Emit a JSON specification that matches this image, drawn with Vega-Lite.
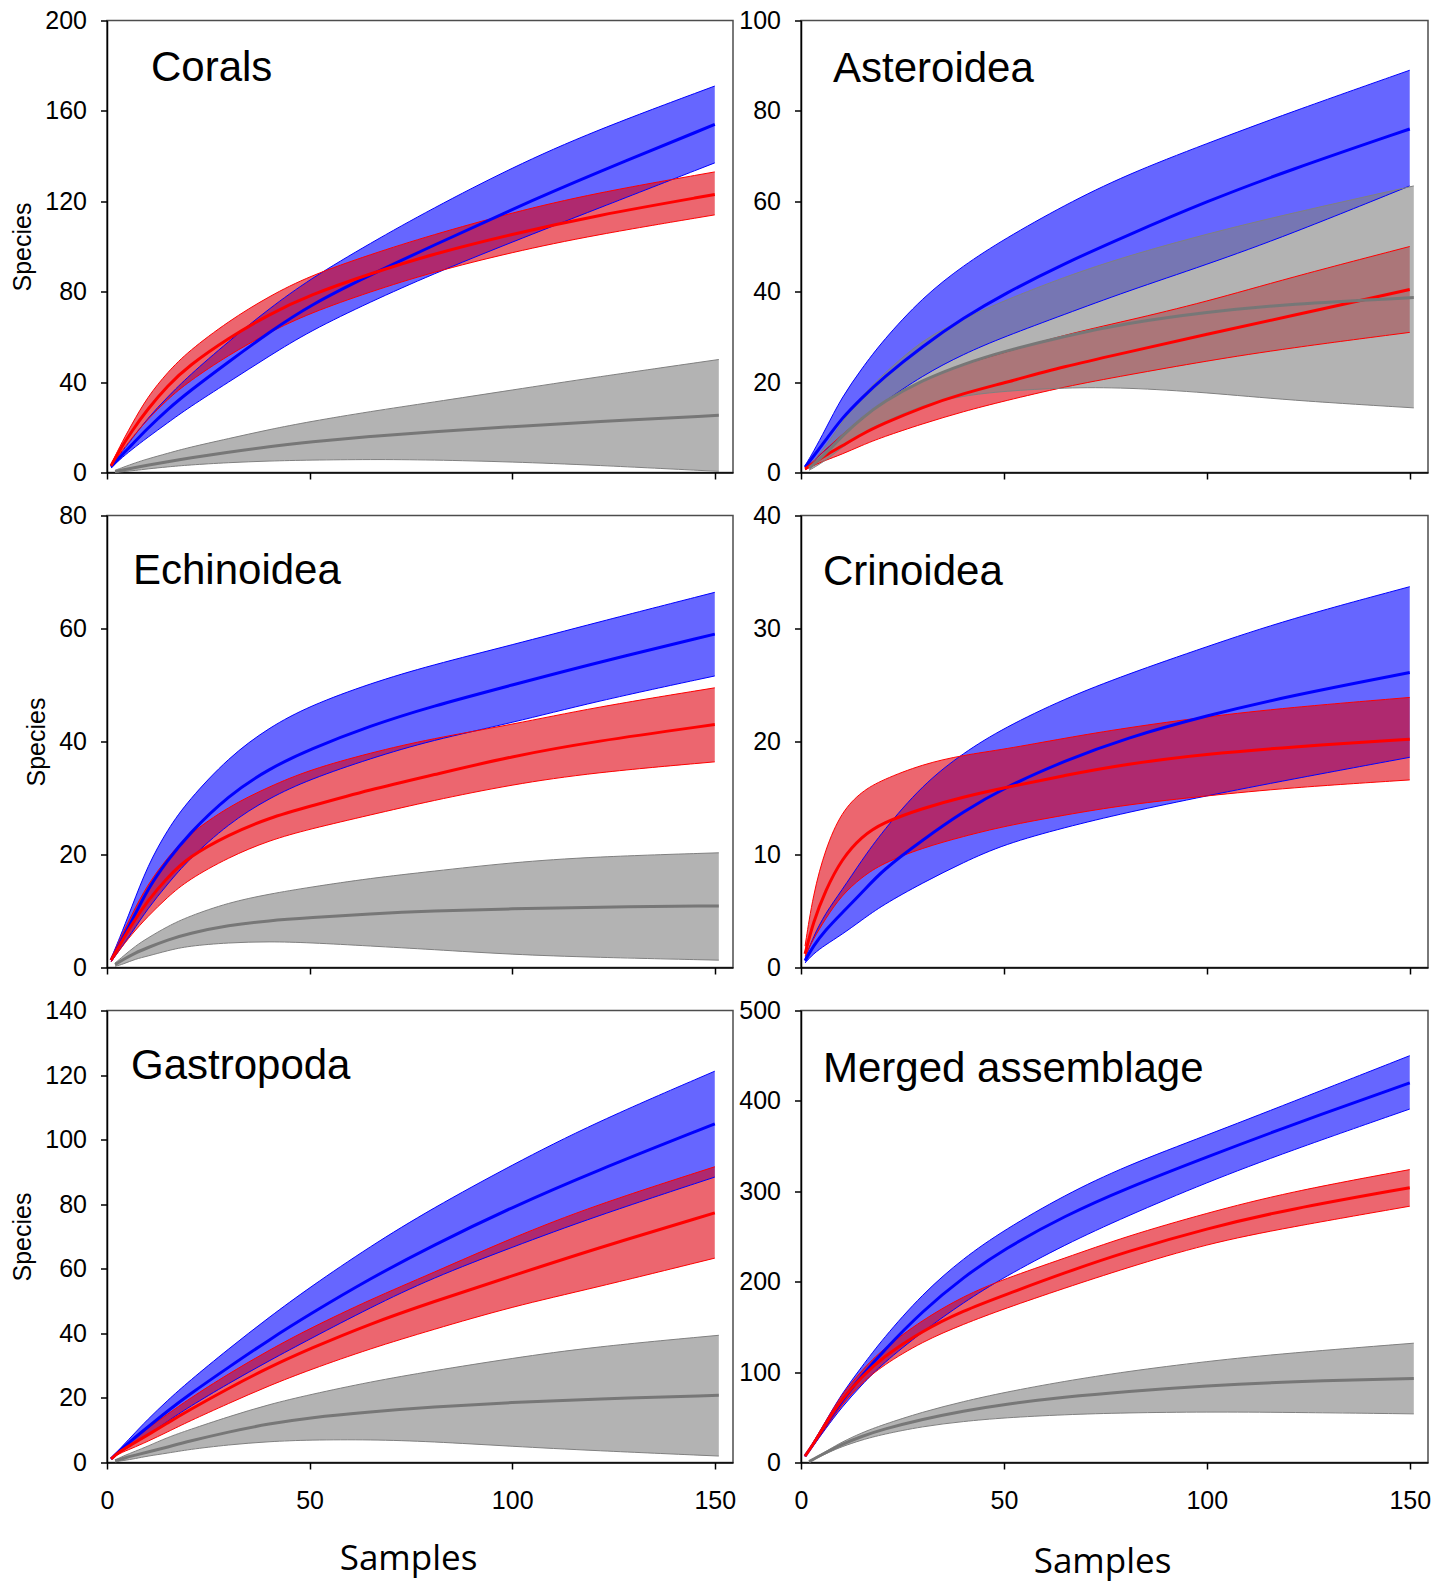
{
"$schema": "https://vega.github.io/schema/vega-lite/v6.json",
"background": "white",
"padding": {"left": 10, "top": 7.5, "right": 5, "bottom": 5},
"config": {
  "view": {"stroke": "#4d4d4d", "strokeWidth": 1.5},
  "axis": {"domainColor": "#000000", "domainWidth": 1.5, "tickColor": "#000000", "tickWidth": 1.5, "tickSize": 6.5, "labelFont": "Liberation Sans", "labelFontSize": 25, "labelColor": "#000000", "grid": false, "titleColor": "#000000", "titleFontWeight": "normal", "labelFlush": false, "labelOverlap": false},
  "axisX": {"labelPadding": 19, "titleFont": "Open Sans", "titleFontSize": 35},
  "axisY": {"labelPadding": 14, "titleFont": "Liberation Sans", "titleFontSize": 25, "titlePadding": 9},
  "title": {"font": "Liberation Sans", "fontSize": 42, "fontWeight": "normal", "anchor": "start", "frame": "group", "baseline": "alphabetic", "offset": 0, "color": "#000000"}
},
"datasets": {"d": [
{"p":"Corals","s":"blue","x":1,"m":2.5,"lo":2,"hi":3},{"p":"Corals","s":"blue","x":3,"m":6.5,"lo":5.5,"hi":7.5},{"p":"Corals","s":"blue","x":6,"m":12,"lo":10,"hi":14.5},{"p":"Corals","s":"blue","x":10,"m":19.5,"lo":15.5,"hi":24},{"p":"Corals","s":"blue","x":15,"m":28,"lo":22,"hi":33.5},{"p":"Corals","s":"blue","x":20,"m":35.5,"lo":28.5,"hi":42.5},{"p":"Corals","s":"blue","x":30,"m":49,"lo":40,"hi":58},{"p":"Corals","s":"blue","x":40,"m":62,"lo":51.5,"hi":72.5},{"p":"Corals","s":"blue","x":50,"m":74,"lo":62.5,"hi":85.5},{"p":"Corals","s":"blue","x":65,"m":87.5,"lo":75.5,"hi":101.5},{"p":"Corals","s":"blue","x":80,"m":100,"lo":87.5,"hi":116.5},{"p":"Corals","s":"blue","x":100,"m":116.5,"lo":102,"hi":135},{"p":"Corals","s":"blue","x":120,"m":132,"lo":116,"hi":151},{"p":"Corals","s":"blue","x":150,"m":154,"lo":137,"hi":171},
{"p":"Corals","s":"red","x":1,"m":3,"lo":2.5,"hi":3.5},{"p":"Corals","s":"red","x":3,"m":9.5,"lo":8,"hi":11},{"p":"Corals","s":"red","x":6,"m":18,"lo":15,"hi":21},{"p":"Corals","s":"red","x":10,"m":28,"lo":23.5,"hi":33.5},{"p":"Corals","s":"red","x":15,"m":38.5,"lo":32.5,"hi":44.5},{"p":"Corals","s":"red","x":20,"m":47,"lo":40,"hi":53.5},{"p":"Corals","s":"red","x":30,"m":59.5,"lo":52,"hi":67},{"p":"Corals","s":"red","x":40,"m":70,"lo":62,"hi":78},{"p":"Corals","s":"red","x":50,"m":78.5,"lo":70.5,"hi":87},{"p":"Corals","s":"red","x":65,"m":88,"lo":80,"hi":96.5},{"p":"Corals","s":"red","x":80,"m":96.5,"lo":88.5,"hi":105},{"p":"Corals","s":"red","x":100,"m":105.5,"lo":97.5,"hi":115},{"p":"Corals","s":"red","x":120,"m":113.5,"lo":105,"hi":123.5},{"p":"Corals","s":"red","x":150,"m":123,"lo":114,"hi":133},
{"p":"Corals","s":"gray","x":2,"m":0.4,"lo":0,"hi":1},{"p":"Corals","s":"gray","x":4,"m":1.2,"lo":0.4,"hi":2.3},{"p":"Corals","s":"gray","x":7,"m":2.2,"lo":0.9,"hi":4.3},{"p":"Corals","s":"gray","x":10,"m":3.2,"lo":1.6,"hi":6},{"p":"Corals","s":"gray","x":15,"m":4.8,"lo":2.5,"hi":8.5},{"p":"Corals","s":"gray","x":20,"m":6.3,"lo":3.3,"hi":11},{"p":"Corals","s":"gray","x":30,"m":9,"lo":4.4,"hi":15},{"p":"Corals","s":"gray","x":40,"m":11.5,"lo":5.1,"hi":19},{"p":"Corals","s":"gray","x":50,"m":13.5,"lo":5.5,"hi":22.5},{"p":"Corals","s":"gray","x":65,"m":16,"lo":5.8,"hi":27},{"p":"Corals","s":"gray","x":80,"m":18,"lo":5.6,"hi":31},{"p":"Corals","s":"gray","x":100,"m":20.3,"lo":4.7,"hi":36.5},{"p":"Corals","s":"gray","x":120,"m":22.5,"lo":3.3,"hi":42},{"p":"Corals","s":"gray","x":151,"m":25.3,"lo":0.5,"hi":50},
{"p":"Asteroidea","s":"blue","x":1,"m":1.2,"lo":1,"hi":1.5},{"p":"Asteroidea","s":"blue","x":3,"m":3.5,"lo":2.5,"hi":4.5},{"p":"Asteroidea","s":"blue","x":6,"m":7,"lo":5,"hi":9.5},{"p":"Asteroidea","s":"blue","x":10,"m":12,"lo":8,"hi":16.6},{"p":"Asteroidea","s":"blue","x":15,"m":16.5,"lo":11.8,"hi":23},{"p":"Asteroidea","s":"blue","x":20,"m":20.8,"lo":15.4,"hi":29},{"p":"Asteroidea","s":"blue","x":30,"m":28,"lo":21.5,"hi":38.8},{"p":"Asteroidea","s":"blue","x":40,"m":34.2,"lo":26.2,"hi":45.8},{"p":"Asteroidea","s":"blue","x":50,"m":39.5,"lo":30,"hi":51.6},{"p":"Asteroidea","s":"blue","x":65,"m":46.3,"lo":35,"hi":59.2},{"p":"Asteroidea","s":"blue","x":80,"m":52.3,"lo":40,"hi":65.8},{"p":"Asteroidea","s":"blue","x":100,"m":60,"lo":46,"hi":72.8},{"p":"Asteroidea","s":"blue","x":120,"m":66.8,"lo":52.5,"hi":79.5},{"p":"Asteroidea","s":"blue","x":150,"m":76,"lo":63.4,"hi":89},
{"p":"Asteroidea","s":"red","x":1,"m":0.8,"lo":0.6,"hi":1},{"p":"Asteroidea","s":"red","x":3,"m":2,"lo":1.5,"hi":2.6},{"p":"Asteroidea","s":"red","x":6,"m":3.8,"lo":2.7,"hi":5},{"p":"Asteroidea","s":"red","x":10,"m":5.8,"lo":4,"hi":8.3},{"p":"Asteroidea","s":"red","x":15,"m":8.5,"lo":6,"hi":12},{"p":"Asteroidea","s":"red","x":20,"m":10.7,"lo":7.8,"hi":15.5},{"p":"Asteroidea","s":"red","x":30,"m":14.5,"lo":10.8,"hi":20.5},{"p":"Asteroidea","s":"red","x":40,"m":17.5,"lo":13.5,"hi":24},{"p":"Asteroidea","s":"red","x":50,"m":19.8,"lo":15.8,"hi":26.5},{"p":"Asteroidea","s":"red","x":65,"m":23.5,"lo":19,"hi":30.5},{"p":"Asteroidea","s":"red","x":80,"m":26.5,"lo":21.5,"hi":33.5},{"p":"Asteroidea","s":"red","x":100,"m":30.6,"lo":24.7,"hi":37.8},{"p":"Asteroidea","s":"red","x":120,"m":34.5,"lo":27.5,"hi":43},{"p":"Asteroidea","s":"red","x":150,"m":40.5,"lo":31,"hi":50},
{"p":"Asteroidea","s":"gray","x":2,"m":1,"lo":0.5,"hi":1.5},{"p":"Asteroidea","s":"gray","x":4,"m":2.5,"lo":1.5,"hi":3.5},{"p":"Asteroidea","s":"gray","x":7,"m":5,"lo":3.3,"hi":7},{"p":"Asteroidea","s":"gray","x":10,"m":8,"lo":5.5,"hi":11},{"p":"Asteroidea","s":"gray","x":15,"m":12,"lo":8.5,"hi":17},{"p":"Asteroidea","s":"gray","x":20,"m":15.5,"lo":11,"hi":21.5},{"p":"Asteroidea","s":"gray","x":30,"m":20.5,"lo":15,"hi":29.5},{"p":"Asteroidea","s":"gray","x":40,"m":24,"lo":17,"hi":34},{"p":"Asteroidea","s":"gray","x":50,"m":26.8,"lo":18,"hi":38},{"p":"Asteroidea","s":"gray","x":65,"m":30.2,"lo":18.8,"hi":43.3},{"p":"Asteroidea","s":"gray","x":80,"m":33,"lo":18.8,"hi":47.8},{"p":"Asteroidea","s":"gray","x":100,"m":35.5,"lo":17.7,"hi":52.8},{"p":"Asteroidea","s":"gray","x":120,"m":37.3,"lo":16,"hi":57.2},{"p":"Asteroidea","s":"gray","x":151,"m":38.7,"lo":14.3,"hi":63.4},
{"p":"Echinoidea","s":"blue","x":1,"m":1.3,"lo":1,"hi":1.6},{"p":"Echinoidea","s":"blue","x":3,"m":4,"lo":3,"hi":5},{"p":"Echinoidea","s":"blue","x":6,"m":8,"lo":6,"hi":10.5},{"p":"Echinoidea","s":"blue","x":10,"m":13.9,"lo":10.4,"hi":18},{"p":"Echinoidea","s":"blue","x":15,"m":19,"lo":14.8,"hi":24.5},{"p":"Echinoidea","s":"blue","x":20,"m":23.5,"lo":19,"hi":29.5},{"p":"Echinoidea","s":"blue","x":30,"m":30.5,"lo":25.5,"hi":37.2},{"p":"Echinoidea","s":"blue","x":40,"m":35.2,"lo":30,"hi":42.5},{"p":"Echinoidea","s":"blue","x":50,"m":38.6,"lo":33.3,"hi":46.3},{"p":"Echinoidea","s":"blue","x":65,"m":42.8,"lo":37,"hi":50.3},{"p":"Echinoidea","s":"blue","x":80,"m":46.2,"lo":40.2,"hi":53.5},{"p":"Echinoidea","s":"blue","x":100,"m":50,"lo":43.3,"hi":57.1},{"p":"Echinoidea","s":"blue","x":120,"m":53.8,"lo":47,"hi":60.9},{"p":"Echinoidea","s":"blue","x":150,"m":59,"lo":51.6,"hi":66.4},
{"p":"Echinoidea","s":"red","x":1,"m":1.3,"lo":1,"hi":1.6},{"p":"Echinoidea","s":"red","x":3,"m":3.8,"lo":3,"hi":4.7},{"p":"Echinoidea","s":"red","x":6,"m":7.5,"lo":5.8,"hi":9.2},{"p":"Echinoidea","s":"red","x":10,"m":11.8,"lo":9,"hi":14.7},{"p":"Echinoidea","s":"red","x":15,"m":16,"lo":12.5,"hi":19.5},{"p":"Echinoidea","s":"red","x":20,"m":19.5,"lo":15.5,"hi":23.5},{"p":"Echinoidea","s":"red","x":30,"m":23.5,"lo":19.5,"hi":28.5},{"p":"Echinoidea","s":"red","x":40,"m":26.5,"lo":22.5,"hi":32},{"p":"Echinoidea","s":"red","x":50,"m":28.5,"lo":24.5,"hi":35},{"p":"Echinoidea","s":"red","x":65,"m":31.5,"lo":27,"hi":38},{"p":"Echinoidea","s":"red","x":80,"m":34,"lo":29.5,"hi":40.5},{"p":"Echinoidea","s":"red","x":100,"m":37.4,"lo":32.4,"hi":43},{"p":"Echinoidea","s":"red","x":120,"m":40,"lo":34.5,"hi":46},{"p":"Echinoidea","s":"red","x":150,"m":43,"lo":36.4,"hi":49.5},
{"p":"Echinoidea","s":"gray","x":2,"m":0.5,"lo":0.2,"hi":0.8},{"p":"Echinoidea","s":"gray","x":4,"m":1.4,"lo":0.6,"hi":2},{"p":"Echinoidea","s":"gray","x":7,"m":2.6,"lo":1.5,"hi":3.8},{"p":"Echinoidea","s":"gray","x":10,"m":3.5,"lo":2,"hi":5.2},{"p":"Echinoidea","s":"gray","x":15,"m":4.9,"lo":3,"hi":7.3},{"p":"Echinoidea","s":"gray","x":20,"m":6,"lo":3.8,"hi":9},{"p":"Echinoidea","s":"gray","x":30,"m":7.5,"lo":4.4,"hi":11.5},{"p":"Echinoidea","s":"gray","x":40,"m":8.3,"lo":4.6,"hi":13},{"p":"Echinoidea","s":"gray","x":50,"m":8.8,"lo":4.4,"hi":14.2},{"p":"Echinoidea","s":"gray","x":65,"m":9.5,"lo":3.8,"hi":15.8},{"p":"Echinoidea","s":"gray","x":80,"m":10,"lo":3.2,"hi":17},{"p":"Echinoidea","s":"gray","x":100,"m":10.4,"lo":2.3,"hi":18.6},{"p":"Echinoidea","s":"gray","x":120,"m":10.7,"lo":1.8,"hi":19.6},{"p":"Echinoidea","s":"gray","x":151,"m":10.9,"lo":1.3,"hi":20.3},
{"p":"Crinoidea","s":"blue","x":1,"m":0.6,"lo":0.4,"hi":0.8},{"p":"Crinoidea","s":"blue","x":3,"m":1.9,"lo":1.2,"hi":2.7},{"p":"Crinoidea","s":"blue","x":6,"m":3.3,"lo":2,"hi":4.8},{"p":"Crinoidea","s":"blue","x":10,"m":4.8,"lo":2.9,"hi":6.8},{"p":"Crinoidea","s":"blue","x":15,"m":6.6,"lo":4.2,"hi":9.5},{"p":"Crinoidea","s":"blue","x":20,"m":8.6,"lo":5.5,"hi":12},{"p":"Crinoidea","s":"blue","x":30,"m":11.3,"lo":7.5,"hi":16.2},{"p":"Crinoidea","s":"blue","x":40,"m":13.8,"lo":9.3,"hi":19},{"p":"Crinoidea","s":"blue","x":50,"m":15.9,"lo":10.9,"hi":21.2},{"p":"Crinoidea","s":"blue","x":65,"m":18.3,"lo":12.4,"hi":23.8},{"p":"Crinoidea","s":"blue","x":80,"m":20.3,"lo":13.7,"hi":25.9},{"p":"Crinoidea","s":"blue","x":100,"m":22.3,"lo":15.2,"hi":28.4},{"p":"Crinoidea","s":"blue","x":120,"m":24,"lo":16.6,"hi":30.8},{"p":"Crinoidea","s":"blue","x":150,"m":26.1,"lo":18.6,"hi":33.7},
{"p":"Crinoidea","s":"red","x":1,"m":1.2,"lo":1,"hi":1.9},{"p":"Crinoidea","s":"red","x":3,"m":4,"lo":2.5,"hi":6.5},{"p":"Crinoidea","s":"red","x":6,"m":6.8,"lo":4.3,"hi":10.5},{"p":"Crinoidea","s":"red","x":10,"m":9.6,"lo":6.4,"hi":13.8},{"p":"Crinoidea","s":"red","x":15,"m":11.6,"lo":8,"hi":15.6},{"p":"Crinoidea","s":"red","x":20,"m":12.8,"lo":9.2,"hi":16.6},{"p":"Crinoidea","s":"red","x":30,"m":14.1,"lo":10.6,"hi":18},{"p":"Crinoidea","s":"red","x":40,"m":15.1,"lo":11.6,"hi":18.8},{"p":"Crinoidea","s":"red","x":50,"m":15.9,"lo":12.5,"hi":19.3},{"p":"Crinoidea","s":"red","x":65,"m":17,"lo":13.5,"hi":20.3},{"p":"Crinoidea","s":"red","x":80,"m":18,"lo":14.4,"hi":21.2},{"p":"Crinoidea","s":"red","x":100,"m":18.9,"lo":15.2,"hi":22.2},{"p":"Crinoidea","s":"red","x":120,"m":19.5,"lo":15.9,"hi":23},{"p":"Crinoidea","s":"red","x":150,"m":20.2,"lo":16.6,"hi":23.9},
{"p":"Gastropoda","s":"blue","x":1,"m":1.1,"lo":1,"hi":1.2},{"p":"Gastropoda","s":"blue","x":3,"m":3.5,"lo":3,"hi":4},{"p":"Gastropoda","s":"blue","x":6,"m":6.8,"lo":5.3,"hi":8},{"p":"Gastropoda","s":"blue","x":10,"m":10.9,"lo":8.5,"hi":13.3},{"p":"Gastropoda","s":"blue","x":15,"m":16,"lo":12.8,"hi":19.3},{"p":"Gastropoda","s":"blue","x":20,"m":20.8,"lo":17,"hi":24.9},{"p":"Gastropoda","s":"blue","x":30,"m":29.5,"lo":24.5,"hi":35.2},{"p":"Gastropoda","s":"blue","x":40,"m":38,"lo":31.5,"hi":45},{"p":"Gastropoda","s":"blue","x":50,"m":45.9,"lo":38.2,"hi":54.2},{"p":"Gastropoda","s":"blue","x":65,"m":57,"lo":48,"hi":67},{"p":"Gastropoda","s":"blue","x":80,"m":67,"lo":57,"hi":78.5},{"p":"Gastropoda","s":"blue","x":100,"m":79.1,"lo":66.7,"hi":92.2},{"p":"Gastropoda","s":"blue","x":120,"m":90,"lo":76,"hi":105},{"p":"Gastropoda","s":"blue","x":150,"m":104.9,"lo":88.4,"hi":121.2},
{"p":"Gastropoda","s":"red","x":1,"m":1.1,"lo":1,"hi":1.2},{"p":"Gastropoda","s":"red","x":3,"m":3.3,"lo":2.8,"hi":3.8},{"p":"Gastropoda","s":"red","x":6,"m":5.5,"lo":4.3,"hi":6.7},{"p":"Gastropoda","s":"red","x":10,"m":8.5,"lo":6.5,"hi":10.6},{"p":"Gastropoda","s":"red","x":15,"m":12.3,"lo":9.5,"hi":15},{"p":"Gastropoda","s":"red","x":20,"m":16,"lo":12.6,"hi":19.5},{"p":"Gastropoda","s":"red","x":30,"m":23,"lo":18.3,"hi":27.5},{"p":"Gastropoda","s":"red","x":40,"m":29.5,"lo":23.8,"hi":34.8},{"p":"Gastropoda","s":"red","x":50,"m":35.2,"lo":28.7,"hi":41.5},{"p":"Gastropoda","s":"red","x":65,"m":43,"lo":35.3,"hi":50.5},{"p":"Gastropoda","s":"red","x":80,"m":49.6,"lo":41,"hi":58.5},{"p":"Gastropoda","s":"red","x":100,"m":57.8,"lo":48.3,"hi":69.6},{"p":"Gastropoda","s":"red","x":120,"m":66,"lo":54,"hi":79.5},{"p":"Gastropoda","s":"red","x":150,"m":77.3,"lo":63.3,"hi":91.6},
{"p":"Gastropoda","s":"gray","x":2,"m":0.5,"lo":0.2,"hi":0.8},{"p":"Gastropoda","s":"gray","x":4,"m":1.3,"lo":0.6,"hi":2},{"p":"Gastropoda","s":"gray","x":7,"m":2.3,"lo":1.2,"hi":3.5},{"p":"Gastropoda","s":"gray","x":10,"m":3.2,"lo":2,"hi":5},{"p":"Gastropoda","s":"gray","x":15,"m":4.8,"lo":2.9,"hi":7.8},{"p":"Gastropoda","s":"gray","x":20,"m":6.5,"lo":4,"hi":10},{"p":"Gastropoda","s":"gray","x":30,"m":9.5,"lo":5.5,"hi":14.2},{"p":"Gastropoda","s":"gray","x":40,"m":12,"lo":6.5,"hi":18},{"p":"Gastropoda","s":"gray","x":50,"m":13.9,"lo":7,"hi":21},{"p":"Gastropoda","s":"gray","x":65,"m":15.7,"lo":7.1,"hi":25},{"p":"Gastropoda","s":"gray","x":80,"m":17.2,"lo":6.5,"hi":28.3},{"p":"Gastropoda","s":"gray","x":100,"m":18.6,"lo":5,"hi":32.3},{"p":"Gastropoda","s":"gray","x":120,"m":19.7,"lo":3.7,"hi":35.8},{"p":"Gastropoda","s":"gray","x":151,"m":20.8,"lo":2,"hi":39.4},
{"p":"Merged","s":"blue","x":1,"m":7,"lo":6.5,"hi":7.5},{"p":"Merged","s":"blue","x":3,"m":20,"lo":18,"hi":22},{"p":"Merged","s":"blue","x":6,"m":41,"lo":37,"hi":45},{"p":"Merged","s":"blue","x":10,"m":68,"lo":61,"hi":76},{"p":"Merged","s":"blue","x":15,"m":96,"lo":86,"hi":106},{"p":"Merged","s":"blue","x":20,"m":122,"lo":109,"hi":136},{"p":"Merged","s":"blue","x":30,"m":168,"lo":145,"hi":187},{"p":"Merged","s":"blue","x":40,"m":205,"lo":177,"hi":226},{"p":"Merged","s":"blue","x":50,"m":236,"lo":205,"hi":257},{"p":"Merged","s":"blue","x":65,"m":273,"lo":241,"hi":296},{"p":"Merged","s":"blue","x":80,"m":303,"lo":272,"hi":328},{"p":"Merged","s":"blue","x":100,"m":338,"lo":310,"hi":362},{"p":"Merged","s":"blue","x":120,"m":372,"lo":344,"hi":397},{"p":"Merged","s":"blue","x":150,"m":420,"lo":391,"hi":450},
{"p":"Merged","s":"red","x":1,"m":7,"lo":6.5,"hi":7.5},{"p":"Merged","s":"red","x":3,"m":20,"lo":18.5,"hi":22},{"p":"Merged","s":"red","x":6,"m":42,"lo":38,"hi":45},{"p":"Merged","s":"red","x":10,"m":70,"lo":64,"hi":75},{"p":"Merged","s":"red","x":15,"m":95,"lo":88,"hi":102},{"p":"Merged","s":"red","x":20,"m":116,"lo":107,"hi":125},{"p":"Merged","s":"red","x":30,"m":146,"lo":134,"hi":158},{"p":"Merged","s":"red","x":40,"m":168,"lo":153,"hi":184},{"p":"Merged","s":"red","x":50,"m":185,"lo":170,"hi":203},{"p":"Merged","s":"red","x":65,"m":210,"lo":193,"hi":226},{"p":"Merged","s":"red","x":80,"m":233,"lo":215,"hi":250},{"p":"Merged","s":"red","x":100,"m":259,"lo":242,"hi":276},{"p":"Merged","s":"red","x":120,"m":280,"lo":260,"hi":299},{"p":"Merged","s":"red","x":150,"m":304,"lo":283.5,"hi":324},
{"p":"Merged","s":"gray","x":2,"m":1,"lo":0.5,"hi":1.5},{"p":"Merged","s":"gray","x":4,"m":6,"lo":5.2,"hi":6.8},{"p":"Merged","s":"gray","x":7,"m":13,"lo":11.5,"hi":14.5},{"p":"Merged","s":"gray","x":10,"m":20,"lo":17.5,"hi":22.5},{"p":"Merged","s":"gray","x":15,"m":29,"lo":25,"hi":33},{"p":"Merged","s":"gray","x":20,"m":36.5,"lo":31,"hi":41.5},{"p":"Merged","s":"gray","x":30,"m":48,"lo":40,"hi":56},{"p":"Merged","s":"gray","x":40,"m":57,"lo":45.5,"hi":67.5},{"p":"Merged","s":"gray","x":50,"m":64.4,"lo":49.5,"hi":77.5},{"p":"Merged","s":"gray","x":65,"m":72.5,"lo":53,"hi":90},{"p":"Merged","s":"gray","x":80,"m":78.5,"lo":55,"hi":100.5},{"p":"Merged","s":"gray","x":100,"m":85,"lo":56,"hi":112},{"p":"Merged","s":"gray","x":120,"m":89.5,"lo":55.5,"hi":121},{"p":"Merged","s":"gray","x":151,"m":93,"lo":53.8,"hi":132}
]},
"data": {"name": "d"},
"columns": 2,
"spacing": {"row": 43, "column": 68},
"bounds": "flush",
"concat": [
 {"width": 626, "height": 452, "title": {"text": "Corals", "dx": 44, "dy": 85},
  "transform": [{"filter": "datum.p === 'Corals'"}],
  "encoding": {"x": {"field": "x", "type": "quantitative", "scale": {"domain": [0, 154.5], "nice": false, "zero": false}, "axis": {"values": [0, 50, 100, 150], "labels": false, "title": null}}},
  "layer": [
   {"transform": [{"filter": "datum.s === 'blue'"}], "mark": {"type": "area", "color": "#0000FF", "opacity": 0.6, "interpolate": "basis"}, "encoding": {"y": {"field": "lo", "type": "quantitative", "title": "Species", "scale": {"domain": [0, 200], "nice": false, "zero": false}, "axis": {"values": [0, 40, 80, 120, 160, 200]}}, "y2": {"field": "hi"}}},
   {"transform": [{"filter": "datum.s === 'red'"}], "mark": {"type": "area", "color": "#E0000F", "opacity": 0.6, "interpolate": "basis"}, "encoding": {"y": {"field": "lo", "type": "quantitative", "title": "Species"}, "y2": {"field": "hi"}}},
   {"transform": [{"filter": "datum.s === 'gray'"}], "mark": {"type": "area", "color": "#808080", "opacity": 0.6, "interpolate": "basis"}, "encoding": {"y": {"field": "lo", "type": "quantitative", "title": "Species"}, "y2": {"field": "hi"}}},
   {"transform": [{"fold": ["lo", "hi"], "as": ["k", "v"]}], "mark": {"type": "line", "strokeWidth": 1, "interpolate": "basis"}, "encoding": {"y": {"field": "v", "type": "quantitative", "title": "Species"}, "detail": {"field": "k"}, "stroke": {"field": "s", "type": "nominal", "scale": {"domain": ["blue", "red", "gray"], "range": ["#0000FF", "#FF0000", "#808080"]}, "legend": null}}},
   {"mark": {"type": "line", "strokeWidth": 3, "interpolate": "basis"}, "encoding": {"y": {"field": "m", "type": "quantitative", "title": "Species"}, "color": {"field": "s", "type": "nominal", "scale": {"domain": ["blue", "red", "gray"], "range": ["#0000FF", "#FF0000", "#777777"]}, "legend": null}}}
  ]},
 {"width": 627, "height": 452, "title": {"text": "Asteroidea", "dx": 32, "dy": 86},
  "transform": [{"filter": "datum.p === 'Asteroidea'"}],
  "encoding": {"x": {"field": "x", "type": "quantitative", "scale": {"domain": [0, 154.5], "nice": false, "zero": false}, "axis": {"values": [0, 50, 100, 150], "labels": false, "title": null}}},
  "layer": [
   {"transform": [{"filter": "datum.s === 'blue'"}], "mark": {"type": "area", "color": "#0000FF", "opacity": 0.6, "interpolate": "basis"}, "encoding": {"y": {"field": "lo", "type": "quantitative", "title": null, "scale": {"domain": [0, 100], "nice": false, "zero": false}, "axis": {"values": [0, 20, 40, 60, 80, 100]}}, "y2": {"field": "hi"}}},
   {"transform": [{"filter": "datum.s === 'red'"}], "mark": {"type": "area", "color": "#E0000F", "opacity": 0.6, "interpolate": "basis"}, "encoding": {"y": {"field": "lo", "type": "quantitative", "title": null}, "y2": {"field": "hi"}}},
   {"transform": [{"filter": "datum.s === 'gray'"}], "mark": {"type": "area", "color": "#808080", "opacity": 0.6, "interpolate": "basis"}, "encoding": {"y": {"field": "lo", "type": "quantitative", "title": null}, "y2": {"field": "hi"}}},
   {"transform": [{"fold": ["lo", "hi"], "as": ["k", "v"]}], "mark": {"type": "line", "strokeWidth": 1, "interpolate": "basis"}, "encoding": {"y": {"field": "v", "type": "quantitative", "title": null}, "detail": {"field": "k"}, "stroke": {"field": "s", "type": "nominal", "scale": {"domain": ["blue", "red", "gray"], "range": ["#0000FF", "#FF0000", "#808080"]}, "legend": null}}},
   {"mark": {"type": "line", "strokeWidth": 3, "interpolate": "basis"}, "encoding": {"y": {"field": "m", "type": "quantitative", "title": null}, "color": {"field": "s", "type": "nominal", "scale": {"domain": ["blue", "red", "gray"], "range": ["#0000FF", "#FF0000", "#777777"]}, "legend": null}}}
  ]},
 {"width": 626, "height": 452, "title": {"text": "Echinoidea", "dx": 26, "dy": 93},
  "transform": [{"filter": "datum.p === 'Echinoidea'"}],
  "encoding": {"x": {"field": "x", "type": "quantitative", "scale": {"domain": [0, 154.5], "nice": false, "zero": false}, "axis": {"values": [0, 50, 100, 150], "labels": false, "title": null}}},
  "layer": [
   {"transform": [{"filter": "datum.s === 'blue'"}], "mark": {"type": "area", "color": "#0000FF", "opacity": 0.6, "interpolate": "basis"}, "encoding": {"y": {"field": "lo", "type": "quantitative", "title": "Species", "scale": {"domain": [0, 80], "nice": false, "zero": false}, "axis": {"values": [0, 20, 40, 60, 80]}}, "y2": {"field": "hi"}}},
   {"transform": [{"filter": "datum.s === 'red'"}], "mark": {"type": "area", "color": "#E0000F", "opacity": 0.6, "interpolate": "basis"}, "encoding": {"y": {"field": "lo", "type": "quantitative", "title": "Species"}, "y2": {"field": "hi"}}},
   {"transform": [{"filter": "datum.s === 'gray'"}], "mark": {"type": "area", "color": "#808080", "opacity": 0.6, "interpolate": "basis"}, "encoding": {"y": {"field": "lo", "type": "quantitative", "title": "Species"}, "y2": {"field": "hi"}}},
   {"transform": [{"fold": ["lo", "hi"], "as": ["k", "v"]}], "mark": {"type": "line", "strokeWidth": 1, "interpolate": "basis"}, "encoding": {"y": {"field": "v", "type": "quantitative", "title": "Species"}, "detail": {"field": "k"}, "stroke": {"field": "s", "type": "nominal", "scale": {"domain": ["blue", "red", "gray"], "range": ["#0000FF", "#FF0000", "#808080"]}, "legend": null}}},
   {"mark": {"type": "line", "strokeWidth": 3, "interpolate": "basis"}, "encoding": {"y": {"field": "m", "type": "quantitative", "title": "Species"}, "color": {"field": "s", "type": "nominal", "scale": {"domain": ["blue", "red", "gray"], "range": ["#0000FF", "#FF0000", "#777777"]}, "legend": null}}}
  ]},
 {"width": 627, "height": 452, "title": {"text": "Crinoidea", "dx": 22, "dy": 94.5},
  "transform": [{"filter": "datum.p === 'Crinoidea'"}],
  "encoding": {"x": {"field": "x", "type": "quantitative", "scale": {"domain": [0, 154.5], "nice": false, "zero": false}, "axis": {"values": [0, 50, 100, 150], "labels": false, "title": null}}},
  "layer": [
   {"transform": [{"filter": "datum.s === 'blue'"}], "mark": {"type": "area", "color": "#0000FF", "opacity": 0.6, "interpolate": "basis"}, "encoding": {"y": {"field": "lo", "type": "quantitative", "title": null, "scale": {"domain": [0, 40], "nice": false, "zero": false}, "axis": {"values": [0, 10, 20, 30, 40]}}, "y2": {"field": "hi"}}},
   {"transform": [{"filter": "datum.s === 'red'"}], "mark": {"type": "area", "color": "#E0000F", "opacity": 0.6, "interpolate": "basis"}, "encoding": {"y": {"field": "lo", "type": "quantitative", "title": null}, "y2": {"field": "hi"}}},
   {"transform": [{"fold": ["lo", "hi"], "as": ["k", "v"]}], "mark": {"type": "line", "strokeWidth": 1, "interpolate": "basis"}, "encoding": {"y": {"field": "v", "type": "quantitative", "title": null}, "detail": {"field": "k"}, "stroke": {"field": "s", "type": "nominal", "scale": {"domain": ["blue", "red", "gray"], "range": ["#0000FF", "#FF0000", "#808080"]}, "legend": null}}},
   {"mark": {"type": "line", "strokeWidth": 3, "interpolate": "basis"}, "encoding": {"y": {"field": "m", "type": "quantitative", "title": null}, "color": {"field": "s", "type": "nominal", "scale": {"domain": ["blue", "red", "gray"], "range": ["#0000FF", "#FF0000", "#777777"]}, "legend": null}}}
  ]},
 {"width": 626, "height": 452, "title": {"text": "Gastropoda", "dx": 24, "dy": 93},
  "transform": [{"filter": "datum.p === 'Gastropoda'"}],
  "encoding": {"x": {"field": "x", "type": "quantitative", "scale": {"domain": [0, 154.5], "nice": false, "zero": false}, "axis": {"values": [0, 50, 100, 150], "title": "Samples", "titleX": 301, "titleY": 107, "titleBaseline": "alphabetic"}}},
  "layer": [
   {"transform": [{"filter": "datum.s === 'blue'"}], "mark": {"type": "area", "color": "#0000FF", "opacity": 0.6, "interpolate": "basis"}, "encoding": {"y": {"field": "lo", "type": "quantitative", "title": "Species", "scale": {"domain": [0, 140], "nice": false, "zero": false}, "axis": {"values": [0, 20, 40, 60, 80, 100, 120, 140]}}, "y2": {"field": "hi"}}},
   {"transform": [{"filter": "datum.s === 'red'"}], "mark": {"type": "area", "color": "#E0000F", "opacity": 0.6, "interpolate": "basis"}, "encoding": {"y": {"field": "lo", "type": "quantitative", "title": "Species"}, "y2": {"field": "hi"}}},
   {"transform": [{"filter": "datum.s === 'gray'"}], "mark": {"type": "area", "color": "#808080", "opacity": 0.6, "interpolate": "basis"}, "encoding": {"y": {"field": "lo", "type": "quantitative", "title": "Species"}, "y2": {"field": "hi"}}},
   {"transform": [{"fold": ["lo", "hi"], "as": ["k", "v"]}], "mark": {"type": "line", "strokeWidth": 1, "interpolate": "basis"}, "encoding": {"y": {"field": "v", "type": "quantitative", "title": "Species"}, "detail": {"field": "k"}, "stroke": {"field": "s", "type": "nominal", "scale": {"domain": ["blue", "red", "gray"], "range": ["#0000FF", "#FF0000", "#808080"]}, "legend": null}}},
   {"mark": {"type": "line", "strokeWidth": 3, "interpolate": "basis"}, "encoding": {"y": {"field": "m", "type": "quantitative", "title": "Species"}, "color": {"field": "s", "type": "nominal", "scale": {"domain": ["blue", "red", "gray"], "range": ["#0000FF", "#FF0000", "#777777"]}, "legend": null}}}
  ]},
 {"width": 627, "height": 452, "title": {"text": "Merged assemblage", "dx": 22, "dy": 96},
  "transform": [{"filter": "datum.p === 'Merged'"}],
  "encoding": {"x": {"field": "x", "type": "quantitative", "scale": {"domain": [0, 154.5], "nice": false, "zero": false}, "axis": {"values": [0, 50, 100, 150], "title": "Samples", "titleX": 301, "titleY": 110, "titleBaseline": "alphabetic"}}},
  "layer": [
   {"transform": [{"filter": "datum.s === 'blue'"}], "mark": {"type": "area", "color": "#0000FF", "opacity": 0.6, "interpolate": "basis"}, "encoding": {"y": {"field": "lo", "type": "quantitative", "title": null, "scale": {"domain": [0, 500], "nice": false, "zero": false}, "axis": {"values": [0, 100, 200, 300, 400, 500]}}, "y2": {"field": "hi"}}},
   {"transform": [{"filter": "datum.s === 'red'"}], "mark": {"type": "area", "color": "#E0000F", "opacity": 0.6, "interpolate": "basis"}, "encoding": {"y": {"field": "lo", "type": "quantitative", "title": null}, "y2": {"field": "hi"}}},
   {"transform": [{"filter": "datum.s === 'gray'"}], "mark": {"type": "area", "color": "#808080", "opacity": 0.6, "interpolate": "basis"}, "encoding": {"y": {"field": "lo", "type": "quantitative", "title": null}, "y2": {"field": "hi"}}},
   {"transform": [{"fold": ["lo", "hi"], "as": ["k", "v"]}], "mark": {"type": "line", "strokeWidth": 1, "interpolate": "basis"}, "encoding": {"y": {"field": "v", "type": "quantitative", "title": null}, "detail": {"field": "k"}, "stroke": {"field": "s", "type": "nominal", "scale": {"domain": ["blue", "red", "gray"], "range": ["#0000FF", "#FF0000", "#808080"]}, "legend": null}}},
   {"mark": {"type": "line", "strokeWidth": 3, "interpolate": "basis"}, "encoding": {"y": {"field": "m", "type": "quantitative", "title": null}, "color": {"field": "s", "type": "nominal", "scale": {"domain": ["blue", "red", "gray"], "range": ["#0000FF", "#FF0000", "#777777"]}, "legend": null}}}
  ]}
]
}
